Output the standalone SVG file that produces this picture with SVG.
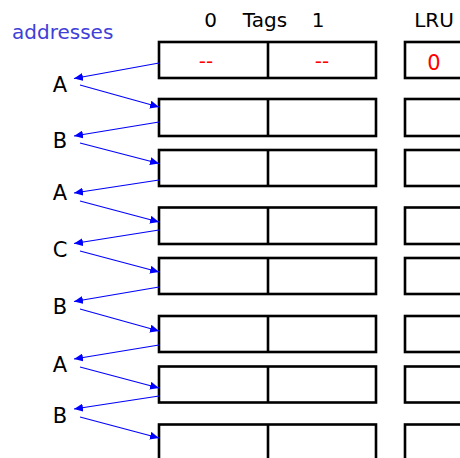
<svg xmlns="http://www.w3.org/2000/svg" width="460" height="458" viewBox="0 0 460 458">
<style>
.t{font-family:"DejaVu Sans",sans-serif;font-size:20px;fill:#000}
.lab{font-family:"DejaVu Sans",sans-serif;font-size:21px;fill:#000;text-anchor:middle}
.red{font-family:"DejaVu Sans",sans-serif;font-size:20px;fill:#ff0000;text-anchor:middle}
.box{fill:#fff;stroke:#000;stroke-width:2.6}
.c line{stroke:#0000ff;stroke-width:1.1;marker-end:url(#ah)}
</style>
<defs>
<marker id="ah" markerUnits="userSpaceOnUse" markerWidth="10" markerHeight="8" viewBox="0 0 10 8" refX="9" refY="4" orient="auto">
<path d="M0,0 L9,4 L0,8 Z" fill="#0000ff"/>
</marker>
</defs>
<rect width="460" height="458" fill="#fff"/>
<g id="headers">
<text x="12" y="39" style="font-family:'DejaVu Sans',sans-serif;font-size:20px;fill:#4040d8">addresses</text>
<text class="t" x="210.5" y="27" text-anchor="middle">0</text>
<text class="t" x="265" y="27" text-anchor="middle">Tags</text>
<text class="t" x="318" y="27" text-anchor="middle">1</text>
<text class="t" x="434" y="27" text-anchor="middle">LRU</text>
</g>
<g id="row1"><rect class="box" x="159" y="42" width="217" height="36"/><line x1="268" y1="42" x2="268" y2="78" stroke="#000" stroke-width="2.6"/><rect class="box" x="405" y="42" width="80" height="36"/>
<text class="red" x="206" y="68">--</text><text class="red" x="322" y="68">--</text><text class="red" x="434" y="70" style="font-size:21px">0</text></g>
<g id="row2"><rect class="box" x="159" y="99" width="217" height="37"/><line x1="268" y1="99" x2="268" y2="136" stroke="#000" stroke-width="2.6"/><rect class="box" x="405" y="99" width="80" height="37"/></g>
<g id="row3"><rect class="box" x="159" y="150" width="217" height="36"/><line x1="268" y1="150" x2="268" y2="186" stroke="#000" stroke-width="2.6"/><rect class="box" x="405" y="150" width="80" height="36"/></g>
<g id="row4"><rect class="box" x="159" y="207.5" width="217" height="36.5"/><line x1="268" y1="207.5" x2="268" y2="244" stroke="#000" stroke-width="2.6"/><rect class="box" x="405" y="207.5" width="80" height="36.5"/></g>
<g id="row5"><rect class="box" x="159" y="258" width="217" height="36"/><line x1="268" y1="258" x2="268" y2="294" stroke="#000" stroke-width="2.6"/><rect class="box" x="405" y="258" width="80" height="36"/></g>
<g id="row6"><rect class="box" x="159" y="316" width="217" height="36"/><line x1="268" y1="316" x2="268" y2="352" stroke="#000" stroke-width="2.6"/><rect class="box" x="405" y="316" width="80" height="36"/></g>
<g id="row7"><rect class="box" x="159" y="366.5" width="217" height="36"/><line x1="268" y1="366.5" x2="268" y2="402.5" stroke="#000" stroke-width="2.6"/><rect class="box" x="405" y="366.5" width="80" height="36"/></g>
<g id="row8"><rect class="box" x="159" y="424.5" width="217" height="60"/><line x1="268" y1="424.5" x2="268" y2="484" stroke="#000" stroke-width="2.6"/><rect class="box" x="405" y="424.5" width="80" height="60"/></g>
<g id="addr">
<text class="lab" x="60" y="92">A</text>
<text class="lab" x="60" y="148">B</text>
<text class="lab" x="60" y="200">A</text>
<text class="lab" x="60" y="257">C</text>
<text class="lab" x="60" y="314">B</text>
<text class="lab" x="60" y="372">A</text>
<text class="lab" x="60" y="423">B</text>
</g>
<g id="connectors" class="c">
<line x1="159" y1="63" x2="74" y2="78.5"/>
<line x1="80" y1="85" x2="159" y2="107"/>
<line x1="159" y1="122" x2="74" y2="136"/>
<line x1="80" y1="143" x2="159" y2="163.5"/>
<line x1="159" y1="180" x2="74" y2="193"/>
<line x1="80" y1="201" x2="159" y2="222"/>
<line x1="159" y1="230" x2="74" y2="243.5"/>
<line x1="80" y1="251" x2="159" y2="272"/>
<line x1="159" y1="287" x2="74" y2="301.5"/>
<line x1="80" y1="309" x2="159" y2="331"/>
<line x1="159" y1="345" x2="74" y2="359"/>
<line x1="80" y1="367" x2="159" y2="388"/>
<line x1="159" y1="396" x2="74" y2="409"/>
<line x1="80" y1="417" x2="159" y2="438"/>
</g>
</svg>
